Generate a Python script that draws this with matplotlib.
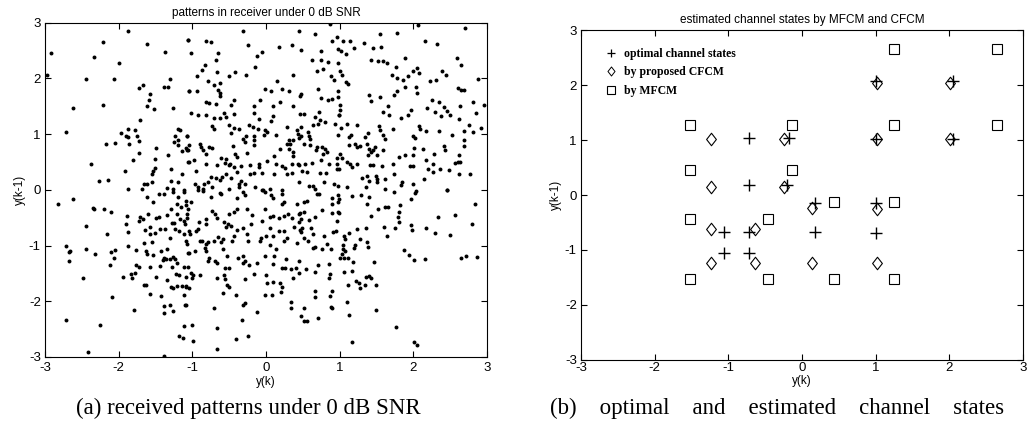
"""Received patterns at 0 dB SNR and the estimated channel states (MFCM vs CFCM)."""

import matplotlib
matplotlib.use("Agg")
import matplotlib.pyplot as plt
import numpy as np
from matplotlib.lines import Line2D
from matplotlib.path import Path

plt.rcParams["font.family"] = ["Liberation Sans", "DejaVu Sans"]
plt.rcParams["axes.unicode_minus"] = False

# (a) received patterns, (y(k), y(k-1))
received_pts = [
    (-1.88, 2.86), (-2.21, 2.66), (-1.61, 2.62), (-1.06, 2.69), (-2.92, 2.45), (-2.33, 2.39),
    (-1.37, 2.48), (-2.00, 2.28), (-2.98, 2.06), (-2.45, 1.99), (-2.06, 1.99), (-1.30, 1.99),
    (-1.72, 1.82), (-1.67, 1.89), (-1.38, 1.84), (-1.33, 1.85), (-1.05, 1.78), (-1.57, 1.72),
    (-1.59, 1.62), (-2.62, 1.47), (-2.22, 1.52), (-1.62, 1.50), (-1.52, 1.46), (-1.26, 1.47),
    (-1.71, 1.25), (-2.71, 1.04), (-1.88, 1.10), (-1.78, 1.08), (-1.97, 1.02), (-1.90, 0.96),
    (-1.87, 0.95), (-1.75, 0.96), (-1.73, 0.87), (-1.20, 1.10), (-1.17, 1.07), (-1.24, 0.96),
    (-1.08, 0.96), (-2.17, 0.82), (-2.05, 0.84), (-1.86, 0.83), (-1.25, 0.86), (-1.19, 0.89),
    (-1.20, 0.81), (-1.49, 0.76), (-1.09, 0.75), (-1.08, 0.71), (-1.73, 0.67), (-1.33, 0.62),
    (-1.14, 0.69), (-2.38, 0.47), (-1.80, 0.53), (-1.51, 0.56), (-1.06, 0.50), (-1.92, 0.34),
    (-1.51, 0.40), (-1.53, 0.34), (-1.55, 0.29), (-1.29, 0.37), (-1.14, 0.28), (-2.27, 0.15),
    (-2.15, 0.18), (-1.55, 0.14), (-1.66, 0.10), (-1.61, 0.10), (-1.29, 0.16), (-1.19, 0.14),
    (-1.87, 0.02), (-1.68, 0.01), (-1.35, 0.04), (-1.26, 0.01), (-1.12, -0.01),
    (-0.32, 2.85), (0.44, 2.86), (0.67, 2.80), (0.87, 2.98), (-1.06, 2.69), (-0.82, 2.68),
    (-0.75, 2.65), (-0.25, 2.61), (0.35, 2.61), (0.89, 2.68), (0.96, 2.74), (-1.02, 2.45),
    (-0.65, 2.46), (-0.13, 2.41), (-0.05, 2.47), (0.18, 2.56), (0.47, 2.51), (0.74, 2.49),
    (0.98, 2.53), (-0.68, 2.34), (0.62, 2.34), (0.75, 2.33), (0.84, 2.29), (-0.83, 2.25),
    (-0.87, 2.15), (-0.15, 2.21), (-0.67, 2.11), (-0.50, 2.05), (-0.42, 2.11), (-0.27, 2.07),
    (0.36, 2.06), (0.77, 2.17), (0.69, 2.14), (0.88, 2.04), (0.92, 1.98), (-0.94, 2.05),
    (-0.79, 1.96), (-0.71, 1.89), (-0.62, 1.91), (0.15, 1.95), (-1.05, 1.78), (-0.94, 1.78),
    (-0.65, 1.80), (-0.62, 1.74), (-0.63, 1.68), (-0.01, 1.81), (0.06, 1.78), (0.21, 1.81),
    (0.31, 1.78), (0.48, 1.72), (0.46, 1.68), (0.71, 1.81), (0.75, 1.65), (0.84, 1.61),
    (0.89, 1.63), (0.97, 1.66), (-0.81, 1.57), (-0.77, 1.56), (-0.68, 1.55), (-0.44, 1.61),
    (-0.48, 1.52), (-0.08, 1.62), (-0.16, 1.50), (0.10, 1.51), (0.19, 1.58), (0.37, 1.50),
    (1.00, 1.52), (-1.02, 1.38), (-0.93, 1.34), (-0.81, 1.35), (-0.71, 1.29), (-0.62, 1.29),
    (-0.57, 1.38), (-0.55, 1.31), (-0.44, 1.37), (-0.16, 1.38), (0.10, 1.33), (-0.10, 1.27),
    (0.06, 1.23), (0.46, 1.37), (0.52, 1.37), (0.67, 1.30), (0.72, 1.40), (0.73, 1.26),
    (0.99, 1.35), (-0.74, 1.14), (-0.71, 1.09), (-0.51, 1.17), (-0.43, 1.11), (-0.37, 1.10),
    (-0.48, 1.02), (-0.23, 1.16), (-0.18, 1.13), (-0.11, 1.10), (-0.02, 1.08), (0.01, 1.04),
    (0.14, 0.98), (0.28, 1.13), (0.43, 1.01), (0.42, 1.08), (0.48, 1.13), (0.57, 1.04),
    (0.58, 0.97), (0.64, 1.17), (0.71, 1.19), (0.80, 1.22), (0.94, 1.19), (-1.07, 0.96),
    (-0.27, 0.96), (-0.31, 0.92), (-0.16, 0.96), (-0.17, 0.89), (-0.29, 0.86), (-0.03, 0.98),
    (0.31, 0.90), (0.36, 0.89), (0.28, 0.83), (0.31, 0.74), (0.44, 0.93), (0.48, 0.96),
    (0.51, 0.83), (0.59, 0.91), (0.60, 0.81), (-1.04, 0.81), (-0.90, 0.83), (-0.88, 0.77),
    (-0.85, 0.71), (-0.78, 0.77), (-0.74, 0.75), (-0.81, 0.65), (-0.45, 0.78), (-0.42, 0.65),
    (-0.39, 0.59), (-0.26, 0.66), (-0.16, 0.81), (-1.06, 0.72), (0.19, 0.74), (0.33, 0.83),
    (0.37, 0.61), (0.36, 0.68), (0.69, 0.77), (0.76, 0.77), (0.80, 0.73), (0.77, 0.65),
    (0.83, 0.68), (0.68, 0.71), (-1.05, 0.50), (-0.98, 0.53), (-0.82, 0.47), (-0.67, 0.45),
    (-0.61, 0.57), (-0.55, 0.55), (-0.56, 0.49), (-0.51, 0.44), (-0.49, 0.47), (-0.44, 0.41),
    (-0.34, 0.43), (-0.22, 0.44), (-0.10, 0.46), (-0.10, 0.41), (0.01, 0.51), (0.11, 0.61),
    (0.13, 0.46), (0.22, 0.43), (0.26, 0.40), (0.35, 0.47), (0.43, 0.47), (0.45, 0.44),
    (0.53, 0.46), (0.62, 0.49), (0.75, 0.53), (0.86, 0.47), (0.96, 0.46), (-0.95, 0.34),
    (-0.75, 0.23), (-0.68, 0.22), (-0.60, 0.23), (-0.63, 0.18), (-0.54, 0.29), (-0.47, 0.22),
    (-0.40, 0.32), (-0.34, 0.16), (-0.22, 0.28), (-0.17, 0.31), (-0.05, 0.30), (0.11, 0.28),
    (0.29, 0.29), (0.35, 0.31), (0.49, 0.33), (0.55, 0.32), (0.73, 0.31), (0.81, 0.31),
    (0.96, 0.37), (-0.96, 0.11), (-0.92, 0.05), (-0.84, 0.11), (-0.79, 0.14), (-0.86, 0.01),
    (-0.74, 0.05), (-0.50, 0.01), (-0.37, 0.10), (-0.37, 0.05), (-0.29, 0.11), (-0.15, 0.05),
    (-0.04, 0.00), (0.05, 0.01), (0.22, 0.00), (0.45, 0.14), (0.58, 0.07), (0.63, 0.07),
    (0.67, 0.02), (0.78, 0.14), (0.92, 0.10),
    (2.06, 2.96), (2.70, 2.90), (1.55, 2.79), (1.78, 2.81), (1.05, 2.67), (1.14, 2.68),
    (1.01, 2.49), (1.09, 2.44), (1.19, 2.54), (1.33, 2.63), (1.45, 2.54), (1.56, 2.57),
    (2.16, 2.68), (2.32, 2.62), (1.43, 2.33), (1.52, 2.31), (1.59, 2.32), (1.64, 2.28),
    (1.89, 2.36), (2.59, 2.37), (2.65, 2.25), (1.76, 2.20), (0.97, 2.27), (1.00, 2.13),
    (1.03, 2.07), (1.08, 1.93), (1.11, 1.90), (1.71, 2.07), (1.78, 2.00), (1.86, 1.97),
    (1.92, 2.04), (1.99, 2.13), (2.05, 2.18), (2.08, 2.10), (2.22, 1.96), (2.31, 1.97),
    (2.39, 2.13), (2.44, 2.07), (2.87, 1.99), (0.97, 1.77), (1.39, 1.70), (1.54, 1.66),
    (1.43, 1.60), (1.73, 1.71), (1.77, 1.77), (1.88, 1.84), (2.03, 1.85), (2.05, 1.74),
    (2.60, 1.83), (2.64, 1.80), (2.68, 1.80), (2.25, 1.62), (2.34, 1.58), (2.19, 1.47),
    (2.41, 1.49), (2.46, 1.41), (2.50, 1.34), (2.38, 1.32), (2.63, 1.50), (2.81, 1.57),
    (2.96, 1.53), (1.00, 1.43), (0.99, 1.35), (1.66, 1.51), (1.58, 1.40), (1.67, 1.35),
    (1.83, 1.29), (1.97, 1.43), (1.93, 1.34), (2.29, 1.40), (2.62, 1.28), (2.85, 1.38),
    (1.10, 1.19), (1.23, 1.17), (1.01, 1.11), (0.97, 0.99), (1.15, 0.98), (1.13, 0.95),
    (1.53, 1.14), (1.55, 1.07), (1.72, 1.10), (1.38, 1.02), (1.34, 0.95), (1.58, 0.99),
    (1.62, 0.92), (2.07, 1.14), (2.17, 1.05), (2.09, 1.09), (1.99, 0.97), (2.02, 0.93),
    (2.35, 1.05), (2.52, 0.98), (2.69, 1.05), (2.75, 1.17), (2.81, 1.04), (2.91, 1.11),
    (1.12, 0.81), (1.20, 0.83), (1.24, 0.77), (1.28, 0.79), (1.37, 0.83), (1.39, 0.74),
    (1.43, 0.68), (1.45, 0.71), (1.48, 0.77), (1.51, 0.63), (1.58, 0.72), (1.00, 0.65),
    (0.96, 0.57), (1.03, 0.57), (1.10, 0.50), (1.14, 0.46), (1.16, 0.41), (0.99, 0.37),
    (1.24, 0.46), (1.38, 0.62), (1.41, 0.44), (1.45, 0.44), (1.57, 0.43), (1.72, 0.46),
    (1.80, 0.59), (1.88, 0.62), (2.01, 0.76), (2.00, 0.63), (2.13, 0.73), (2.28, 0.65),
    (2.41, 0.78), (2.43, 0.72), (2.17, 0.54), (2.27, 0.47), (2.27, 0.32), (1.95, 0.43),
    (1.99, 0.43), (2.20, 0.37), (2.36, 0.38), (2.48, 0.35), (2.57, 0.49), (2.60, 0.50),
    (2.63, 0.50), (2.69, 0.79), (2.68, 0.89), (2.62, 0.62), (2.77, 0.29), (2.62, 0.28),
    (1.30, 0.22), (1.37, 0.25), (1.40, 0.16), (1.49, 0.25), (1.51, 0.19), (1.51, 0.14),
    (1.73, 0.29), (1.61, 0.20), (1.84, 0.14), (2.00, 0.10), (2.14, 0.20), (0.97, 0.07),
    (1.10, 0.05), (1.36, 0.05), (1.62, 0.02), (1.83, 0.08), (2.03, -0.02), (2.46, -0.01),
    (-1.46, -0.08), (-1.39, -0.07), (-1.27, -0.04), (-1.11, -0.04), (-2.83, -0.25),
    (-2.62, -0.16), (-2.35, -0.32), (-2.34, -0.35), (-2.20, -0.35), (-2.10, -0.40),
    (-1.62, -0.13), (-1.53, -0.22), (-1.19, -0.13), (-1.21, -0.26), (-1.16, -0.31),
    (-1.09, -0.28), (-1.09, -0.20), (-1.29, -0.35), (-1.08, -0.43), (-1.89, -0.47),
    (-1.71, -0.49), (-1.72, -0.56), (-1.67, -0.53), (-1.49, -0.50), (-1.46, -0.49),
    (-1.60, -0.43), (-1.35, -0.46), (-1.21, -0.44), (-1.25, -0.59), (-1.17, -0.52),
    (-1.12, -0.56), (-1.10, -0.61), (-1.90, -0.62), (-1.88, -0.75), (-2.45, -0.65),
    (-1.57, -0.67), (-1.64, -0.72), (-1.57, -0.79), (-1.51, -0.77), (-1.44, -0.70),
    (-1.37, -0.70), (-1.28, -0.60), (-1.24, -0.70), (-1.18, -0.74), (-1.11, -0.80),
    (-1.05, -0.74), (-1.31, -0.87), (-2.16, -0.79), (-2.71, -1.00), (-2.66, -1.10),
    (-2.68, -1.12), (-2.67, -1.28), (-2.44, -1.07), (-2.32, -1.16), (-2.11, -1.12),
    (-2.05, -1.08), (-2.06, -1.22), (-1.88, -1.01), (-1.76, -1.08), (-1.66, -0.95),
    (-1.55, -0.93), (-1.63, -1.10), (-1.61, -1.16), (-1.54, -1.17), (-1.42, -1.10),
    (-1.35, -1.07), (-1.38, -1.22), (-1.40, -1.26), (-1.36, -1.25), (-1.27, -1.21),
    (-1.24, -1.25), (-1.21, -1.31), (-1.30, -1.24), (-1.05, -1.13), (-1.12, -1.39),
    (-2.48, -1.59), (-2.12, -1.35), (-1.94, -1.57), (-1.84, -1.52), (-1.82, -1.59),
    (-1.78, -1.49), (-1.76, -1.35), (-1.72, -1.38), (-1.58, -1.38), (-1.49, -1.56),
    (-1.44, -1.37), (-1.28, -1.39), (-1.22, -1.51), (-1.18, -1.53), (-1.09, -1.57),
    (-1.66, -1.71), (-1.63, -1.71), (-1.34, -1.62), (-1.29, -1.74), (-1.27, -1.77),
    (-1.21, -1.73), (-1.14, -1.73), (-1.09, -1.75), (-2.09, -1.92), (-1.57, -1.87),
    (-1.42, -1.90), (-1.12, -1.89), (-1.39, -2.09), (-1.38, -2.21), (-1.30, -2.06),
    (-1.26, -2.17), (-1.10, -2.07), (-1.79, -2.15), (-2.72, -2.33), (-2.25, -2.42),
    (-1.12, -2.45), (-1.18, -2.63), (-1.13, -2.66), (-2.42, -2.92), (-1.38, -2.99),
    (-0.92, -0.01), (-0.85, -0.02), (-0.75, -0.13), (-0.62, -0.05), (-0.61, -0.08),
    (-0.40, -0.14), (-0.31, -0.04), (-0.28, -0.10), (-0.06, -0.01), (-0.02, -0.04),
    (0.06, -0.10), (0.09, -0.14), (0.21, -0.08), (0.22, -0.26), (0.24, -0.22), (0.42, -0.25),
    (0.51, -0.22), (0.55, -0.20), (0.69, -0.07), (0.72, -0.08), (0.89, -0.14), (0.90, -0.25),
    (0.98, -0.22), (-1.02, -0.22), (-1.06, -0.35), (-0.74, -0.38), (-0.69, -0.44),
    (-0.67, -0.51), (-0.51, -0.43), (-0.43, -0.40), (-0.39, -0.35), (-0.26, -0.35),
    (-0.19, -0.46), (-0.01, -0.34), (0.05, -0.49), (0.09, -0.47), (0.18, -0.51), (0.24, -0.47),
    (0.30, -0.44), (0.35, -0.50), (0.44, -0.43), (0.46, -0.41), (0.52, -0.40), (0.47, -0.53),
    (0.45, -0.58), (0.58, -0.55), (0.67, -0.49), (0.76, -0.36), (0.89, -0.41), (0.98, -0.40),
    (-1.08, -0.50), (-0.91, -0.58), (-0.81, -0.53), (-0.82, -0.61), (-0.57, -0.57),
    (-0.52, -0.62), (-0.54, -0.67), (-0.47, -0.65), (-0.40, -0.73), (-0.32, -0.69),
    (-0.20, -0.62), (-0.06, -0.56), (0.05, -0.69), (0.17, -0.74), (0.24, -0.74), (0.38, -0.67),
    (0.49, -0.69), (0.48, -0.76), (0.46, -0.73), (0.61, -0.68), (0.64, -0.79), (0.91, -0.75),
    (0.96, -0.56), (-1.03, -0.80), (-0.95, -0.74), (-0.92, -0.71), (-0.87, -0.91),
    (-0.82, -0.97), (-0.79, -0.93), (-0.71, -0.92), (-0.65, -0.85), (-0.61, -0.93),
    (-0.58, -0.89), (-0.44, -0.83), (-0.46, -0.92), (-0.26, -0.80), (-0.25, -0.92),
    (-0.08, -0.92), (-0.07, -0.86), (0.00, -0.82), (0.09, -0.82), (0.05, -0.99), (0.13, -1.07),
    (0.24, -0.92), (0.28, -0.87), (0.42, -0.95), (0.52, -0.87), (0.57, -0.92), (0.64, -1.04),
    (0.67, -1.03), (0.76, -1.07), (0.78, -0.83), (0.82, -0.97), (0.88, -1.07), (-1.09, -0.92),
    (-1.08, -0.98), (-1.06, -1.13), (-0.96, -1.09), (-0.90, -0.92), (-0.83, -1.04),
    (-0.81, -1.10), (-0.78, -1.22), (-0.79, -1.27), (-0.70, -1.27), (-0.67, -1.31),
    (-0.59, -1.06), (-0.53, -1.19), (-0.38, -1.23), (-0.31, -1.19), (-0.28, -1.27),
    (-0.31, -1.31), (-0.23, -1.35), (-0.13, -1.31), (-0.02, -1.19), (0.09, -1.33),
    (0.11, -1.19), (0.21, -1.40), (0.26, -1.41), (0.27, -1.25), (0.34, -1.43), (0.40, -1.41),
    (0.44, -1.27), (0.54, -1.43), (0.45, -1.49), (0.70, -1.35), (0.85, -1.33), (-1.06, -1.39),
    (-1.02, -1.49), (-1.00, -1.58), (-0.99, -1.53), (-0.90, -1.53), (-0.56, -1.41),
    (-0.51, -1.40), (-0.57, -1.53), (-0.56, -1.61), (-0.66, -1.58), (-0.28, -1.61),
    (-0.17, -1.52), (0.00, -1.53), (0.01, -1.68), (0.10, -1.65), (0.19, -1.67), (0.21, -1.75),
    (0.37, -1.58), (0.67, -1.47), (0.85, -1.58), (0.87, -1.51), (-1.05, -1.76), (-1.09, -1.73),
    (-0.58, -1.85), (-0.53, -1.71), (-0.50, -1.75), (-0.41, -1.88), (-0.01, -1.89),
    (0.08, -1.89), (0.20, -1.84), (0.67, -1.82), (0.67, -1.93), (0.89, -1.82), (0.87, -1.91),
    (-1.09, -2.07), (-0.71, -2.13), (-0.32, -2.06), (-0.29, -2.03), (-0.13, -2.19),
    (0.34, -2.01), (0.34, -2.13), (0.51, -2.13), (0.48, -2.27), (0.51, -2.36), (0.55, -2.36),
    (0.71, -2.30), (0.88, -2.11), (0.90, -2.13), (-1.01, -2.42), (-0.67, -2.48),
    (-0.33, -2.34), (-0.24, -2.62), (-0.41, -2.67), (-0.99, -2.71), (-0.67, -2.86),
    (0.97, -0.10), (0.99, -0.16), (1.16, -0.11), (1.29, -0.10), (1.39, -0.13), (1.37, -0.25),
    (1.73, -0.04), (2.02, -0.05), (1.96, -0.17), (2.45, -0.01), (2.84, -0.25), (0.99, -0.41),
    (1.43, -0.47), (1.52, -0.34), (1.61, -0.31), (1.65, -0.31), (1.82, -0.28), (1.81, -0.40),
    (1.79, -0.49), (1.80, -0.58), (2.33, -0.49), (2.57, -0.46), (2.80, -0.61), (0.95, -0.74),
    (1.12, -0.77), (1.06, -0.83), (1.07, -0.89), (1.24, -0.71), (1.35, -0.68), (1.60, -0.66),
    (1.75, -0.69), (1.64, -0.83), (1.97, -0.63), (1.98, -0.72), (2.17, -0.68), (2.29, -0.77),
    (2.50, -0.81), (1.28, -0.89), (1.37, -0.93), (1.38, -1.03), (1.21, -0.99), (1.19, -1.05),
    (1.05, -0.99), (1.05, -1.07), (1.03, -1.15), (1.00, -1.22), (1.06, -1.22), (1.11, -1.23),
    (1.18, -1.29), (1.07, -1.10), (1.46, -1.29), (1.87, -1.08), (1.94, -1.17), (2.01, -1.26),
    (2.15, -1.24), (2.65, -1.22), (2.71, -1.18), (2.86, -1.20), (1.06, -1.48), (1.16, -1.46),
    (1.11, -1.70), (1.22, -1.64), (1.26, -1.67), (1.27, -1.77), (1.34, -1.71), (1.35, -1.57),
    (1.39, -1.55), (1.43, -1.58), (1.49, -1.70), (1.10, -2.01), (1.12, -2.25), (1.49, -2.15),
    (1.76, -2.47), (1.17, -2.73), (2.01, -2.74), (2.05, -2.78),
]

# (b) optimal channel states and the two estimates
opt_x = [1.01, 2.05, -0.72, -0.18, 1.01, 2.05, -0.72, -0.20,
         0.18, 1.01, -1.06, -0.72, 0.18, 1.01, -1.06, -0.72]
opt_y = [2.07, 2.07, 1.04, 1.04, 1.02, 1.02, 0.18, 0.18,
         -0.14, -0.15, -0.68, -0.68, -0.68, -0.70, -1.06, -1.06]
cfcm_x = [1.02, 2.01, -1.24, -0.25, 1.02, 2.01, -1.24, -0.25,
          0.13, 1.02, -1.24, -0.64, -1.24, -0.64, 0.13, 1.02]
cfcm_y = [2.03, 2.03, 1.02, 1.02, 1.02, 1.02, 0.15, 0.15,
          -0.23, -0.25, -0.62, -0.62, -1.23, -1.23, -1.23, -1.23]
mfcm_x = [1.25, 2.64, -1.52, -0.14, 1.25, 2.64, -1.52, -0.14,
          0.44, 1.25, -1.52, -0.46, -1.52, -0.46, 0.44, 1.25]
mfcm_y = [2.66, 2.66, 1.27, 1.27, 1.27, 1.27, 0.45, 0.45,
          -0.12, -0.12, -0.44, -0.44, -1.52, -1.52, -1.52, -1.52]
legend_labels = ["optimal channel states", "by proposed CFCM", "by MFCM"]

TICKS = [-3, -2, -1, 0, 1, 2, 3]
SERIF = "Liberation Serif"
# MATLAB-style diamond: a bit taller than wide
DIAMOND = Path([(0, 1), (0.78, 0), (0, -1), (-0.78, 0), (0, 1)],
               [Path.MOVETO, Path.LINETO, Path.LINETO, Path.LINETO, Path.CLOSEPOLY])


def style_axes(ax, title, xpad=4):
    ax.set_xlim(-3, 3)
    ax.set_ylim(-3, 3)
    ax.set_xticks(TICKS)
    ax.set_yticks(TICKS)
    ax.tick_params(direction="in", top=True, right=True, length=4,
                   width=0.8, labelsize=9.5)
    ax.tick_params(axis="x", pad=xpad)
    ax.tick_params(axis="y", pad=3)
    for sp in ax.spines.values():
        sp.set_linewidth(0.8)
    ax.set_title(title, fontsize=8.5, pad=5)
    ax.set_xlabel("y(k)", fontsize=8.5, labelpad=1)
    ax.set_ylabel("y(k-1)", fontsize=8.5, labelpad=2)


fig = plt.figure(figsize=(10.33, 4.30), dpi=100)

ax_a = fig.add_axes([0.0436, 0.170, 0.428, 0.777])
pts = np.array(received_pts)
ax_a.scatter(pts[:, 0], pts[:, 1], s=8, color="black", marker="o", linewidths=0)
style_axes(ax_a, "patterns in receiver under 0 dB SNR")

ax_b = fig.add_axes([0.5624, 0.163, 0.428, 0.767])
ax_b.plot(opt_x, opt_y, "+", color="black", markersize=8, mew=1.0)
ax_b.plot(cfcm_x, cfcm_y, marker=DIAMOND, ls="none", color="black", mfc="none",
          markersize=9, mew=0.8)
ax_b.plot(mfcm_x, mfcm_y, "s", color="black", mfc="none", markersize=7.5, mew=0.8)
style_axes(ax_b, "estimated channel states by MFCM and CFCM", xpad=1.5)

# legend symbols are drawn smaller than the plotted marks
handles = [
    Line2D([], [], ls="none", marker="+", color="black", markersize=6, mew=0.9),
    Line2D([], [], ls="none", marker=DIAMOND, color="black", mfc="none", markersize=6.5, mew=0.7),
    Line2D([], [], ls="none", marker="s", color="black", mfc="none", markersize=5.5, mew=0.8),
]
ax_b.legend(handles, legend_labels, loc="upper left", bbox_to_anchor=(0.035, 0.975),
            frameon=False, handlelength=0.8, handletextpad=0.7, labelspacing=0.55,
            borderpad=0.3, prop={"family": SERIF, "weight": "bold", "size": 8.5})

fig.text(0.240, 0.05, "(a) received patterns under 0 dB SNR",
         ha="center", va="center", family=SERIF, fontsize=16.5)
fig.text(0.752, 0.05, "(b)    optimal    and    estimated    channel    states",
         ha="center", va="center", family=SERIF, fontsize=16.5)

fig.savefig("out.png", dpi=100)
